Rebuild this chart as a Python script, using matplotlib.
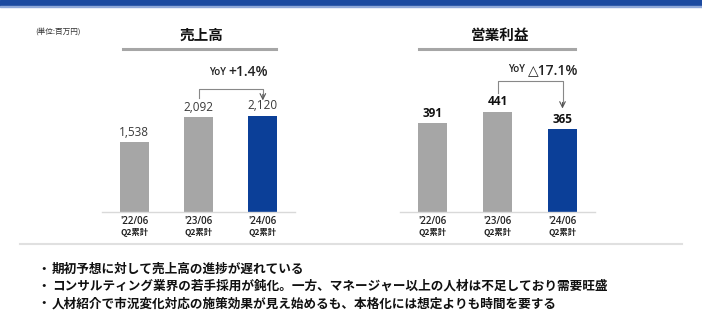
import numpy as np
from matplotlib import pyplot as plt
from matplotlib.patches import Rectangle
import matplotlib

matplotlib.rcParams['font.family'] = ['Noto Sans CJK JP', 'DejaVu Sans']

# data
periods = ["'22/06", "'23/06", "'24/06"]
period_sub = ["Q2累計", "Q2累計", "Q2累計"]
sales = [1538, 2092, 2120]
op_profit = [391, 441, 365]
titles = ["売上高", "営業利益"]
yoy_labels = [("YoY ", "+1.4%"), ("YoY ", "△17.1%")]
bullets = [
    "期初予想に対して売上高の進捗が遅れている",
    "コンサルティング業界の若手採用が鈍化。一方、マネージャー以上の人材は不足しており需要旺盛",
    "人材紹介で市況変化対応の施策効果が見え始めるも、本格化には想定よりも時間を要する",
]

W, H = 702, 336
GRAY = '#a6a6a6'
BLUE = '#0b3f98'
LATIN = ['Open Sans', 'DejaVu Sans']

fig = plt.figure(figsize=(W / 100, H / 100), dpi=100)


def fx(px):
    return px / W


def fy(py):
    return 1 - py / H


# top band
fig.patches.append(Rectangle((0, fy(6)), 1, 6 / H, transform=fig.transFigure,
                             color='#1c4aa0', zorder=0))
fig.patches.append(Rectangle((0, fy(7)), 1, 1 / H, transform=fig.transFigure,
                             color='#8fa8d8', zorder=0))

fig.text(fx(35), fy(32), "(単位:百万円)", fontsize=5.5, color='#333333', va='center')


def draw_chart(left_px, right_px, values, ymax, yoy, label_style, brk):
    ax = fig.add_axes([fx(left_px), fy(212), fx(right_px - left_px), (212 - 60) / H])
    x = np.arange(len(values))
    colors = [GRAY, GRAY, BLUE]
    ax.bar(x, values, width=0.45, color=colors, zorder=2)
    ax.set_xlim(-0.5, 2.5)
    ax.set_ylim(0, ymax)
    for s in ['top', 'right', 'left']:
        ax.spines[s].set_visible(False)
    ax.spines['bottom'].set_color('#d9d9d9')
    ax.spines['bottom'].set_linewidth(1.0)
    ax.set_xticks([])
    ax.set_yticks([])
    for xi, v in zip(x, values):
        ax.annotate(f"{v:,}", (xi, v), xytext=(0, 2.5), textcoords='offset points',
                    ha='center', va='bottom', family=LATIN, **label_style)
    trans = ax.get_xaxis_transform()
    for xi, p, s in zip(x, periods, period_sub):
        ax.text(xi, -0.06, p, transform=trans, ha='center', va='center',
                fontsize=7, color='#222222', family=LATIN, fontweight='semibold')
        ax.text(xi, -0.135, s, transform=trans, ha='center', va='center',
                fontsize=6, color='#222222', fontweight='bold')
    # yoy bracket
    y_start, y_top, y_tip, y_text = brk
    ax.plot([1, 1, 2, 2], [y_start, y_top, y_top, y_tip + ymax * 0.03],
            color='#888888', lw=0.8, clip_on=False, zorder=3)
    ax.annotate('', xy=(2, y_tip), xytext=(2, y_tip + ymax * 0.04),
                arrowprops=dict(arrowstyle='->', color='#555555', lw=0.8,
                                shrinkA=0, shrinkB=0), annotation_clip=False)
    ax.text(1.47, y_text, yoy[0], ha='right', va='center', fontsize=7,
            color='#222222', family=LATIN, fontweight='semibold')
    ax.text(1.47, y_text, yoy[1], ha='left', va='center', fontsize=10,
            color='#222222', family=LATIN, fontweight='semibold')
    return ax


ax1 = draw_chart(102, 295, sales, 3350, yoy_labels[0],
                 dict(fontsize=8.5, color='#3a3a3a'),
                 (sales[1] * 1.2, sales[1] * 1.3, sales[2] * 1.16, sales[1] * 1.47))
ax2 = draw_chart(400, 595, op_profit, 670, yoy_labels[1],
                 dict(fontsize=8.5, color='#111111', fontweight='bold'),
                 (op_profit[1] * 1.19, op_profit[1] * 1.31, op_profit[2] * 1.25,
                  op_profit[1] * 1.42))

# titles with underline
for cx, x0, x1, t in [(202, 123, 276, titles[0]), (500, 419, 575, titles[1])]:
    fig.text(fx(cx), fy(35), t, ha='center', va='center', fontsize=10.5,
             fontweight='bold', color='#111111')
    fig.add_artist(plt.Line2D([fx(x0), fx(x1)], [fy(49), fy(49)], color=GRAY, lw=2.2))

# separator
fig.add_artist(plt.Line2D([fx(20), fx(682)], [fy(244), fy(244)], color='#e0e0e0', lw=1.5))

for i, b in enumerate(bullets):
    yy = fy(269 + 17.5 * i)
    fig.text(fx(37), yy, "・", fontsize=9, va='center', color='#111111', fontweight='bold')
    fig.text(fx(52), yy, b, fontsize=9.1, va='center', color='#111111', fontweight='bold')

fig.savefig('out.png', dpi=100)
